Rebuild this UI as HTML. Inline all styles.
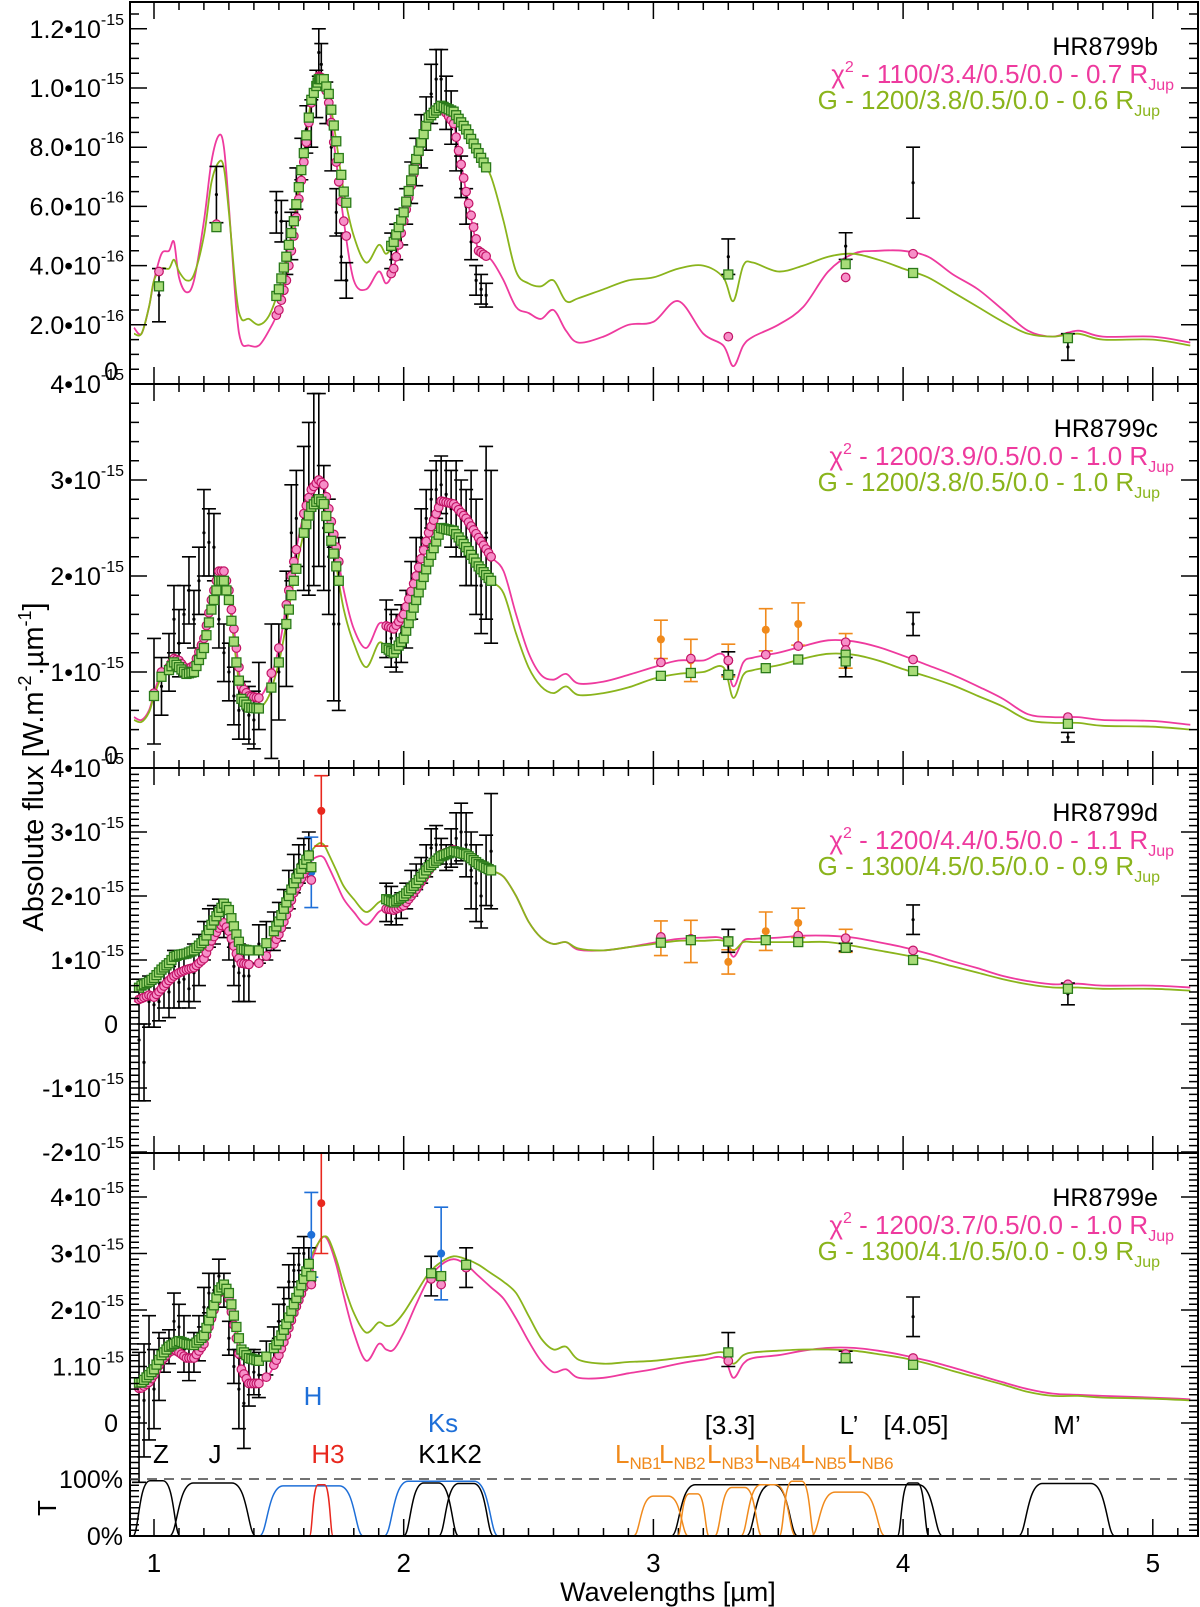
<!DOCTYPE html>
<html><head><meta charset="utf-8"><style>
html,body{margin:0;padding:0;background:#fff}
svg{display:block;font-family:"Liberation Sans",Arial,sans-serif}
</style></head><body>
<svg id="chart" width="1200" height="1607" viewBox="0 0 1200 1607" xmlns="http://www.w3.org/2000/svg">
<defs>
<clipPath id="c0"><rect x="130" y="2" width="1068" height="382"/></clipPath>
<clipPath id="c1"><rect x="130" y="384" width="1068" height="384"/></clipPath>
<clipPath id="c2"><rect x="130" y="768" width="1068" height="385"/></clipPath>
<clipPath id="c3"><rect x="130" y="1153" width="1068" height="383"/></clipPath>
</defs>
<g id="layer"></g>
</svg>
<script>
const W=[0.92,0.95,0.98,1.0,1.03,1.06,1.08,1.1,1.13,1.16,1.2,1.23,1.26,1.28,1.3,1.33,1.35,1.38,1.42,1.46,1.5,1.53,1.56,1.6,1.63,1.66,1.68,1.7,1.73,1.76,1.8,1.85,1.9,1.93,1.96,2.0,2.05,2.1,2.15,2.2,2.25,2.3,2.35,2.4,2.45,2.5,2.55,2.6,2.65,2.7,2.8,2.9,3.0,3.1,3.2,3.28,3.32,3.36,3.4,3.5,3.6,3.7,3.8,3.9,4.0,4.1,4.2,4.3,4.4,4.5,4.6,4.7,4.8,5.0,5.15];
// panel 1 (units 1e-16)
const p1Pink=[1.9,1.7,2.6,3.5,4.4,4.5,4.8,3.6,3.1,3.5,5.5,7.5,8.4,8.0,6.0,2.5,1.4,1.3,1.3,1.8,2.5,3.5,5.0,7.5,9.5,10.4,10.3,9.5,7.5,5.5,3.5,3.2,3.8,3.4,3.9,5.5,7.5,9.0,9.4,8.8,6.5,4.5,4.2,3.5,2.6,2.4,2.2,2.5,1.8,1.4,1.6,2.0,2.1,2.8,1.7,1.3,0.6,1.3,1.6,2.0,2.6,3.8,4.4,4.5,4.5,4.3,3.7,3.2,2.5,1.8,1.6,1.8,1.6,1.6,1.4];
const p1Green=[1.7,1.7,2.6,3.5,3.9,3.9,4.2,3.8,3.5,3.7,5.0,6.8,7.5,7.3,5.8,3.0,2.2,2.2,2.0,2.3,3.2,4.3,5.5,7.8,9.6,10.3,10.3,9.8,8.2,6.5,5.0,4.1,4.7,4.4,4.8,5.8,7.6,9.0,9.4,9.2,8.6,7.8,7.0,5.5,3.8,3.4,3.3,3.5,2.8,2.9,3.2,3.5,3.6,3.9,4.0,3.6,2.8,4.0,4.1,3.8,4.0,4.3,4.4,4.2,3.9,3.6,3.1,2.6,2.1,1.7,1.6,1.7,1.5,1.5,1.3];
const p1DataWl=[1.49,1.51,1.53,1.55,1.57,1.59,1.61,1.63,1.65,1.66,1.67,1.69,1.71,1.73,1.75,1.77,1.95,1.97,1.99,2.01,2.03,2.05,2.07,2.09,2.11,2.13,2.15,2.17,2.19,2.21,2.23,2.25,2.27,2.29,2.31,2.33];
const p1DataVal=[5.8,5.5,4.6,5.0,6.6,7.6,8.6,8.8,9.8,11.2,10.8,9.5,8.0,5.8,4.3,3.5,4.5,4.8,5.3,6.0,6.8,7.5,8.2,8.8,9.8,10.3,10.3,9.5,9.0,8.0,7.0,6.0,4.8,3.5,3.2,3.0];
const p1DataErr=[0.7,0.7,0.9,0.8,0.7,0.7,0.8,0.8,0.8,0.8,0.7,0.7,0.8,0.8,0.8,0.6,0.6,0.6,0.6,0.6,0.7,0.8,0.9,0.9,1.0,1.0,1.0,0.9,0.9,0.8,0.7,0.6,0.6,0.5,0.5,0.4];
const p1PhotWl=[1.02,1.25,3.3,3.77,4.04,4.66];
const p1PhotVal=[3.0,6.4,4.3,4.66,6.8,1.25];
const p1PhotErr=[0.9,0.95,0.6,0.45,1.2,0.45];
const p1PhotKind=['k','k','k','k','k','k'];
const p1PhotPink=[3.8,5.4,1.6,3.6,4.4,1.6];
const p1PhotGreen=[3.3,5.3,3.7,4.05,3.75,1.55];
// panel 2 (units 1e-15)
const p2Pink=[0.53,0.5,0.6,0.78,1.0,1.05,1.14,1.12,1.02,1.07,1.35,1.75,2.05,2.05,1.85,1.25,0.85,0.75,0.73,0.9,1.25,1.7,2.15,2.65,2.9,3.0,2.95,2.7,2.3,1.85,1.45,1.25,1.5,1.48,1.45,1.6,2.0,2.45,2.78,2.75,2.6,2.4,2.2,2.05,1.6,1.2,0.97,0.92,0.98,0.88,0.9,0.97,1.05,1.12,1.12,1.18,0.85,1.1,1.15,1.2,1.27,1.33,1.32,1.26,1.17,1.07,0.97,0.85,0.72,0.56,0.53,0.53,0.5,0.49,0.45];
const p2Green=[0.5,0.48,0.58,0.75,0.95,1.02,1.1,1.05,0.98,1.0,1.25,1.65,1.95,1.95,1.75,1.1,0.72,0.63,0.62,0.75,1.1,1.5,1.95,2.45,2.72,2.8,2.75,2.5,2.1,1.65,1.3,1.05,1.3,1.25,1.2,1.35,1.75,2.15,2.5,2.47,2.3,2.1,1.95,1.82,1.4,1.05,0.85,0.78,0.85,0.76,0.78,0.84,0.93,0.98,1.0,1.05,0.73,0.97,1.02,1.07,1.14,1.19,1.18,1.12,1.03,0.95,0.86,0.75,0.64,0.5,0.47,0.47,0.44,0.43,0.4];
const p2DataWl=[1.0,1.03,1.06,1.08,1.1,1.12,1.14,1.16,1.18,1.2,1.22,1.24,1.26,1.28,1.3,1.32,1.34,1.36,1.38,1.4,1.42,1.47,1.5,1.53,1.55,1.57,1.6,1.62,1.64,1.66,1.68,1.7,1.72,1.74,1.93,1.95,1.97,1.99,2.01,2.03,2.05,2.07,2.09,2.11,2.13,2.15,2.17,2.19,2.21,2.23,2.25,2.27,2.29,2.31,2.33,2.35];
const p2DataVal=[0.8,0.85,1.1,1.55,1.3,1.6,1.85,1.55,1.95,2.45,2.35,2.3,1.55,1.2,1.0,0.75,0.6,0.6,0.55,0.5,0.75,0.8,1.0,1.45,2.45,2.6,2.6,2.7,2.9,3.0,2.5,2.2,1.5,1.5,1.45,1.35,1.3,1.4,1.55,1.85,2.1,2.4,2.6,2.8,2.9,2.95,2.85,2.7,2.7,2.6,2.4,2.5,2.2,1.9,2.45,2.2];
const p2DataErr=[0.55,0.3,0.3,0.35,0.35,0.3,0.35,0.3,0.35,0.45,0.35,0.35,0.3,0.3,0.3,0.3,0.3,0.3,0.3,0.3,0.35,0.7,0.5,0.6,0.5,0.5,0.75,0.9,1.0,0.9,0.65,0.6,0.8,0.9,0.3,0.3,0.3,0.3,0.3,0.3,0.3,0.3,0.3,0.3,0.3,0.3,0.35,0.4,0.5,0.4,0.5,0.6,0.6,0.5,0.9,0.9];
const p2PhotWl=[3.03,3.15,3.3,3.3,3.45,3.58,3.77,3.77,4.04,4.66];
const p2PhotVal=[1.34,1.12,1.12,1.09,1.44,1.5,1.22,1.05,1.5,0.32];
const p2PhotErr=[0.2,0.22,0.17,0.12,0.22,0.22,0.18,0.1,0.12,0.05];
const p2PhotKind=['o','o','o','k','o','o','o','k','k','k'];
const p2PhotPink=[1.10,1.14,1.12,1.12,1.18,1.27,1.31,1.23,1.13,0.53];
const p2PhotGreen=[0.96,0.99,0.97,0.97,1.04,1.13,1.18,1.11,1.01,0.46];
// panel 3
const p3Pink=[0.35,0.4,0.45,0.42,0.55,0.68,0.75,0.8,0.85,0.88,1.02,1.3,1.5,1.58,1.45,1.1,0.95,0.93,0.95,1.1,1.4,1.7,2.05,2.35,2.55,2.62,2.6,2.45,2.2,1.95,1.75,1.55,1.75,1.8,1.78,1.85,2.1,2.4,2.65,2.72,2.65,2.5,2.4,2.3,2.0,1.6,1.35,1.25,1.28,1.16,1.15,1.2,1.27,1.33,1.35,1.33,1.05,1.3,1.33,1.35,1.38,1.38,1.35,1.28,1.2,1.1,0.98,0.87,0.75,0.67,0.62,0.63,0.6,0.6,0.57];
const p3Green=[0.5,0.6,0.66,0.72,0.85,0.95,1.05,1.08,1.1,1.15,1.3,1.55,1.75,1.88,1.78,1.4,1.17,1.15,1.15,1.3,1.6,1.9,2.2,2.5,2.7,2.82,2.8,2.65,2.4,2.15,1.95,1.75,1.9,1.95,1.9,2.0,2.2,2.45,2.62,2.7,2.65,2.5,2.4,2.3,2.0,1.6,1.35,1.25,1.28,1.18,1.15,1.2,1.25,1.3,1.3,1.3,1.15,1.28,1.28,1.28,1.28,1.28,1.22,1.15,1.08,1.0,0.9,0.8,0.7,0.62,0.57,0.57,0.55,0.55,0.52];
const p3DataWl=[0.94,0.96,0.98,1.0,1.02,1.04,1.06,1.08,1.1,1.12,1.14,1.16,1.18,1.2,1.22,1.24,1.26,1.28,1.3,1.32,1.34,1.36,1.38,1.42,1.45,1.48,1.5,1.52,1.54,1.56,1.58,1.6,1.62,1.93,1.95,1.97,1.99,2.01,2.03,2.05,2.07,2.09,2.11,2.13,2.15,2.17,2.19,2.21,2.23,2.25,2.27,2.29,2.31,2.33,2.35];
const p3DataVal=[-0.25,-0.6,0.35,0.3,0.35,0.55,0.5,0.7,0.65,0.7,0.55,0.8,1.0,1.3,1.5,1.55,1.7,1.55,1.3,0.9,0.8,0.75,0.75,1.25,1.3,1.45,1.6,1.8,2.1,2.35,2.5,2.6,2.7,1.9,1.85,1.75,1.85,2.0,2.2,2.3,2.4,2.55,2.75,2.8,2.7,2.6,2.75,2.9,3.0,2.8,2.4,2.2,2.0,2.4,2.7];
const p3DataErr=[0.95,0.6,0.4,0.35,0.3,0.3,0.4,0.45,0.4,0.35,0.3,0.45,0.4,0.3,0.3,0.3,0.25,0.2,0.3,0.3,0.45,0.4,0.4,0.3,0.3,0.3,0.3,0.3,0.3,0.3,0.3,0.3,0.3,0.3,0.3,0.2,0.2,0.2,0.2,0.2,0.2,0.25,0.3,0.3,0.2,0.2,0.3,0.4,0.45,0.5,0.6,0.6,0.5,0.55,0.9];
const p3PhotWl=[1.63,1.67,3.03,3.15,3.3,3.3,3.45,3.58,3.77,3.77,4.04,4.66];
const p3PhotVal=[2.37,3.33,1.34,1.29,0.97,1.3,1.45,1.58,1.3,1.2,1.63,0.47];
const p3PhotErr=[0.55,0.55,0.27,0.33,0.19,0.18,0.3,0.23,0.18,0.06,0.23,0.17];
const p3PhotKind=['b','r','o','o','o','k','o','o','o','k','k','k'];
const p3PhotPink=[2.25,null,1.36,1.33,1.3,1.3,1.31,1.38,1.34,1.34,1.15,0.62];
const p3PhotGreen=[2.45,null,1.27,1.31,1.29,1.29,1.31,1.28,1.19,1.19,1.0,0.55];
// panel 4
const p4Pink=[0.6,0.62,0.72,0.85,1.1,1.25,1.3,1.25,1.15,1.15,1.4,1.85,2.3,2.4,2.2,1.5,0.95,0.7,0.7,0.85,1.2,1.55,1.95,2.4,2.85,3.2,3.3,3.2,2.8,2.25,1.6,1.1,1.4,1.3,1.3,1.6,2.1,2.55,2.8,2.9,2.8,2.6,2.4,2.2,1.85,1.45,1.1,0.9,0.95,0.8,0.8,0.88,0.95,1.05,1.12,1.15,0.8,1.05,1.15,1.2,1.28,1.33,1.33,1.28,1.2,1.1,0.98,0.85,0.72,0.6,0.52,0.5,0.48,0.45,0.42];
const p4Green=[0.7,0.72,0.85,0.95,1.2,1.35,1.4,1.45,1.4,1.38,1.55,1.95,2.35,2.45,2.3,1.7,1.3,1.15,1.1,1.2,1.45,1.75,2.1,2.55,2.95,3.2,3.3,3.25,2.9,2.45,1.95,1.6,1.78,1.72,1.75,1.95,2.3,2.65,2.85,2.95,2.9,2.8,2.65,2.5,2.3,1.9,1.5,1.3,1.35,1.12,1.05,1.08,1.1,1.15,1.2,1.25,1.05,1.2,1.25,1.28,1.3,1.3,1.28,1.22,1.15,1.05,0.92,0.8,0.68,0.55,0.48,0.48,0.45,0.43,0.4];
const p4DataWl=[0.94,0.96,0.98,1.0,1.02,1.04,1.06,1.08,1.1,1.12,1.14,1.16,1.18,1.2,1.22,1.24,1.26,1.28,1.3,1.32,1.34,1.36,1.38,1.4,1.42,1.45,1.48,1.5,1.52,1.54,1.56,1.58,1.6,1.62];
const p4DataVal=[0.1,0.4,0.8,0.6,1.0,1.2,1.35,1.8,1.7,1.4,1.1,1.25,1.5,2.05,2.3,2.35,2.6,2.35,1.5,1.0,0.6,0.35,0.8,0.9,0.85,1.15,1.4,1.8,2.1,2.5,2.7,2.8,3.0,2.8];
const p4DataErr=[1.15,1.0,1.1,0.7,0.6,0.3,0.3,0.5,0.4,0.5,0.35,0.35,0.4,0.35,0.35,0.3,0.3,0.3,0.3,0.3,0.7,0.8,0.5,0.4,0.4,0.3,0.3,0.3,0.3,0.3,0.3,0.3,0.3,0.3];
const p4PhotWl=[1.63,1.67,2.11,2.15,2.25,3.3,3.77,4.04];
const p4PhotVal=[3.33,3.89,2.6,3.0,2.75,1.3,1.17,1.88];
const p4PhotErr=[0.75,0.89,0.35,0.82,0.35,0.3,0.1,0.35];
const p4PhotKind=['b','r','k','b','k','k','k','k'];
const p4PhotPink=[2.45,null,2.55,2.45,2.75,1.1,1.22,1.15];
const p4PhotGreen=[2.6,null,2.65,2.6,2.8,1.25,1.15,1.03];
// filters
const filterNames=['Z','J','H','H3','Ks','K1','K2','[3.3]',"L'",'[4.05]',"M'",'NB1','NB2','NB3','NB4','NB5','NB6'];
const filterLo=[0.95,1.11,1.47,1.64,1.97,2.04,2.18,3.12,3.42,4.0,4.51,2.96,3.12,3.28,3.39,3.53,3.68];
const filterHi=[1.07,1.36,1.79,1.70,2.33,2.18,2.32,3.53,4.11,4.08,4.8,3.1,3.2,3.4,3.53,3.62,3.88];
const filterPeak=[0.97,0.93,0.88,0.9,0.96,0.93,0.92,0.9,0.9,0.93,0.92,0.7,0.74,0.85,0.9,0.96,0.77];
const filterKind=['k','k','b','r','b','k','k','k','k','k','k','o','o','o','o','o','o'];
// ticks
const p1TickVals=[0,2,4,6,8,10,12];
const p1TickMant=['0','2.0•10','4.0•10','6.0•10','8.0•10','1.0•10','1.2•10'];
const p1TickExp=['','-16','-16','-16','-16','-15','-15'];
const p2TickVals=[0,1,2,3,4];
const p2TickMant=['0','1•10','2•10','3•10','4•10'];
const p2TickExp=['','-15','-15','-15','-15'];
const p3TickVals=[-2,-1,0,1,2,3,4];
const p3TickMant=['-2•10','-1•10','0','1•10','2•10','3•10','4•10'];
const p3TickExp=['-15','-15','','-15','-15','-15','-15'];
const p4TickVals=[0,1,2,3,4];
const p4TickMant=['0','1.10','2•10','3•10','4•10'];
const p4TickExp=['','-15','-15','-15','-15'];
const xTickVals=[1,2,3,4,5];

const COL={k:'#000',o:'#f08a1c',b:'#1e6fd8',r:'#e8281e'};
const PINK='#ee3a9e',GREEN='#8ab41c';
const NS='http://www.w3.org/2000/svg';
const layer=document.getElementById('layer');
function mk(tag,attrs,parent){const e=document.createElementNS(NS,tag);for(const k in attrs)e.setAttribute(k,attrs[k]);(parent||layer).appendChild(e);return e;}
const XL=130,XR=1198;
function sx(l){return 154+(l-1)*249.7;}
const panels=[
 {top:2,bot:384,y0:384,s:29.6,minor:0.5,pink:p1Pink,green:p1Green,dw:p1DataWl,dv:p1DataVal,de:p1DataErr,pw:p1PhotWl,pv:p1PhotVal,pe:p1PhotErr,pk:p1PhotKind,pp:p1PhotPink,pg:p1PhotGreen,tv:p1TickVals,tm:p1TickMant,te:p1TickExp,name:'HR8799b',l1:['1100/3.4/0.5/0.0 - 0.7 R'],l2:['1200/3.8/0.5/0.0 - 0.6 R'],minv:0,maxv:12.9},
 {top:384,bot:768,y0:768,s:96,minor:0.2,pink:p2Pink,green:p2Green,dw:p2DataWl,dv:p2DataVal,de:p2DataErr,pw:p2PhotWl,pv:p2PhotVal,pe:p2PhotErr,pk:p2PhotKind,pp:p2PhotPink,pg:p2PhotGreen,tv:p2TickVals,tm:p2TickMant,te:p2TickExp,name:'HR8799c',l1:['1200/3.9/0.5/0.0 - 1.0 R'],l2:['1200/3.8/0.5/0.0 - 1.0 R'],minv:0,maxv:4},
 {top:768,bot:1153,y0:1024,s:64,minor:0.1,pink:p3Pink,green:p3Green,dw:p3DataWl,dv:p3DataVal,de:p3DataErr,pw:p3PhotWl,pv:p3PhotVal,pe:p3PhotErr,pk:p3PhotKind,pp:p3PhotPink,pg:p3PhotGreen,tv:p3TickVals,tm:p3TickMant,te:p3TickExp,name:'HR8799d',l1:['1200/4.4/0.5/0.0 - 1.1 R'],l2:['1300/4.5/0.5/0.0 - 0.9 R'],minv:-2,maxv:3.98},
 {top:1153,bot:1536,y0:1423,s:56.5,minor:0.1,pink:p4Pink,green:p4Green,dw:p4DataWl,dv:p4DataVal,de:p4DataErr,pw:p4PhotWl,pv:p4PhotVal,pe:p4PhotErr,pk:p4PhotKind,pp:p4PhotPink,pg:p4PhotGreen,tv:p4TickVals,tm:p4TickMant,te:p4TickExp,name:'HR8799e',l1:['1200/3.7/0.5/0.0 - 1.0 R'],l2:['1300/4.1/0.5/0.0 - 0.9 R'],minv:-2,maxv:4.78}
];
function smooth(pts){let d='M'+pts[0][0].toFixed(1)+','+pts[0][1].toFixed(1);
 for(let i=0;i<pts.length-1;i++){const p0=pts[Math.max(0,i-1)],p1=pts[i],p2=pts[i+1],p3=pts[Math.min(pts.length-1,i+2)];
  const c1x=p1[0]+(p2[0]-p0[0])/6,c1y=p1[1]+(p2[1]-p0[1])/6,c2x=p2[0]-(p3[0]-p1[0])/6,c2y=p2[1]-(p3[1]-p1[1])/6;
  d+=' C'+c1x.toFixed(1)+','+c1y.toFixed(1)+' '+c2x.toFixed(1)+','+c2y.toFixed(1)+' '+p2[0].toFixed(1)+','+p2[1].toFixed(1);}
 return d;}
function interp(arr,l){for(let i=0;i<W.length-1;i++){if(l>=W[i]&&l<=W[i+1]){const t=(l-W[i])/(W[i+1]-W[i]);return arr[i]+(arr[i+1]-arr[i])*t;}}return arr[arr.length-1];}
function errbar(g,x,yv,ye,col,py){
 const y1=py(yv+ye),y2=py(yv-ye);
 const e=mk('path',{d:`M${x},${y1}V${y2}M${x-7},${y1}H${x+7}M${x-7},${y2}H${x+7}`,stroke:col,'stroke-width':1.6,fill:'none'},g);
 
 
 const c=mk('circle',{cx:x,cy:py(yv),r:col==='#000'?1.6:4,fill:col},g);
 
 
}
function circ(g,x,y){const c=mk('circle',{cx:x,cy:y,r:4.3,fill:'#f78fc8',stroke:'#c21466','stroke-width':1.2},g);
 
 }
function sq(g,x,y){const r=mk('rect',{x:x-4.5,y:y-4.5,width:9,height:9,fill:'#a8dc78',stroke:'#2a7a1a','stroke-width':1.3},g);
 
 }

panels.forEach((P,k)=>{
 const py=v=>P.y0-v*P.s;
 const g=mk('g',{'clip-path':`url(#c${k})`});
 
 
 const ptsG=W.map((l,i)=>[sx(l),py(P.green[i])]);
 const ptsP=W.map((l,i)=>[sx(l),py(P.pink[i])]);
 const lp=mk('path',{d:smooth(ptsP),stroke:PINK,'stroke-width':1.8,fill:'none'},g);
 
 
 const lg=mk('path',{d:smooth(ptsG),stroke:GREEN,'stroke-width':1.8,fill:'none'},g);
 
 
 P.dw.forEach((l,i)=>errbar(g,sx(l),P.dv[i],P.de[i],'#000',py));
 P.pw.forEach((l,i)=>errbar(g,sx(l),P.pv[i],P.pe[i],COL[P.pk[i]],py));
 const mw=[];P.dw.forEach((l,i)=>{mw.push(l);if(i<P.dw.length-1&&P.dw[i+1]-l<0.025)mw.push((l+P.dw[i+1])/2);});
 mw.forEach(l=>circ(g,sx(l),py(interp(P.pink,l))));
 mw.forEach(l=>sq(g,sx(l),py(interp(P.green,l))));
 P.pw.forEach((l,i)=>{if(P.pp[i]!=null)circ(g,sx(l),py(P.pp[i]));});
 P.pw.forEach((l,i)=>{if(P.pg[i]!=null)sq(g,sx(l),py(P.pg[i]));});
 const ax=mk('g',{stroke:'#000',fill:'none'});
 
 
 mk('rect',{x:XL,y:P.top,width:XR-XL,height:P.bot-P.top,'stroke-width':2},ax);
 let d='';
 for(let t=0.9;t<=5.2;t+=0.1){const tt=Math.round(t*10)/10;const x=sx(tt);if(x<XL||x>XR)continue;const L=(Math.abs(tt-Math.round(tt))<1e-6)?17:8;
  d+=`M${x.toFixed(1)},${P.bot}v${-L}M${x.toFixed(1)},${P.top}v${L}`;}
 const n0=Math.ceil(P.minv/P.minor-1e-6),n1=Math.floor(P.maxv/P.minor+1e-6);
 for(let n=n0;n<=n1;n++){const v=n*P.minor;const y=py(v);if(y<P.top||y>P.bot)continue;const maj=P.tv.some(t=>Math.abs(t-v)<1e-6);const L=maj?17:9;
  d+=`M${XL},${y.toFixed(1)}h${L}M${XR},${y.toFixed(1)}h${-L}`;}
 mk('path',{d:d,'stroke-width':1.5},ax);
 P.tv.forEach((v,i)=>{const y=py(v);const t=mk('text',{x:124,y:(y+9).toFixed(1),'text-anchor':'end','font-size':25,fill:'#000'});
  
  
  if(P.te[i]){t.textContent=P.tm[i];const s=mk('tspan',{'font-size':16,dy:-13},t);s.textContent=P.te[i];}
  else{t.setAttribute('x',118);t.setAttribute('y',(y+(v===P.tv[0]&&k<2?-4:9)).toFixed(1));t.textContent=P.tm[i];}
 });
 const lx=[1158,1174,1160];
 const t0=mk('text',{x:lx[0],y:P.top+53,'text-anchor':'end','font-size':25,fill:'#000'});t0.textContent=P.name;
 
 
 const t1=mk('text',{x:lx[1],y:P.top+81,'text-anchor':'end','font-size':26,fill:PINK});
 
 
 let s=mk('tspan',{},t1);s.textContent='χ';s=mk('tspan',{'font-size':16,dy:-11},t1);s.textContent='2';
 s=mk('tspan',{dy:11},t1);s.textContent=' - '+P.l1[0];s=mk('tspan',{'font-size':16,dy:7},t1);s.textContent='Jup';
 const t2=mk('text',{x:lx[2],y:P.top+107,'text-anchor':'end','font-size':26,fill:GREEN});
 
 
 s=mk('tspan',{},t2);s.textContent='G - '+P.l2[0];s=mk('tspan',{'font-size':16,dy:7},t2);s.textContent='Jup';
});

const fy=T=>1536-T*57;
const fg=mk('g',{fill:'none','stroke-width':1.5});


filterNames.forEach((n,i)=>{
 const a=sx(filterLo[i]),b=sx(filterHi[i]),yp=fy(filterPeak[i]),y0=fy(0),w=Math.min(12,(b-a)/3.5);
 const d=`M${a-w},${y0} C${a-w/3},${y0} ${a-w/3},${yp} ${a+w},${yp} L${b-w},${yp} C${b+w/3},${yp} ${b+w/3},${y0} ${b+w},${y0}`;
 const p=mk('path',{d:d,stroke:COL[filterKind[i]]},fg);
 
 
});
const dl=mk('line',{x1:XL,x2:XR,y1:fy(1),y2:fy(1),stroke:'#444','stroke-width':1.5,'stroke-dasharray':'10,7'});


mk('line',{x1:XL,x2:XR,y1:1536,y2:1536,stroke:'#000','stroke-width':2});

const labs=[['Z',161,1463,'k'],['J',215,1463,'k'],['H',313,1405,'b'],['H3',328,1463,'r'],['Ks',443,1432,'b'],['K1K2',450,1463,'k'],['[3.3]',730,1434,'k'],["L’",849,1434,'k'],['[4.05]',916,1434,'k'],["M’",1067,1434,'k']];
labs.forEach(L=>{const t=mk('text',{x:L[1],y:L[2],'text-anchor':'middle','font-size':26,fill:COL[L[3]]});t.textContent=L[0];
 
 });
const nbx=[615,659,707,754,800,847];
nbx.forEach((x,i)=>{const t=mk('text',{x:x,y:1463,'font-size':26,fill:COL.o});t.textContent='L';
 const s=mk('tspan',{'font-size':17,dy:6,'letter-spacing':-0.5},t);s.textContent='NB'+(i+1);
 
 });

[['100%',1488],['0%',1545]].forEach(a=>{const t=mk('text',{x:123,y:a[1],'text-anchor':'end','font-size':25});t.textContent=a[0];
 
 });
const tt=mk('text',{x:0,y:0,transform:'translate(56,1508) rotate(-90)','text-anchor':'middle','font-size':26});tt.textContent='T';



xTickVals.forEach(v=>{const t=mk('text',{x:sx(v),y:1572,'text-anchor':'middle','font-size':26});t.textContent=String(v);
 
 });
const xt=mk('text',{x:668,y:1601,'text-anchor':'middle','font-size':27});xt.textContent='Wavelengths [µm]';


const yt=mk('text',{x:0,y:0,transform:'translate(43,767) rotate(-90)','text-anchor':'middle','font-size':29});


let s=mk('tspan',{},yt);s.textContent='Absolute flux [W.m';
s=mk('tspan',{'font-size':18,dy:-12},yt);s.textContent='-2';
s=mk('tspan',{dy:12},yt);s.textContent='.µm';
s=mk('tspan',{'font-size':18,dy:-12},yt);s.textContent='-1';
s=mk('tspan',{dy:12},yt);s.textContent=']';
</script>
</body></html>
